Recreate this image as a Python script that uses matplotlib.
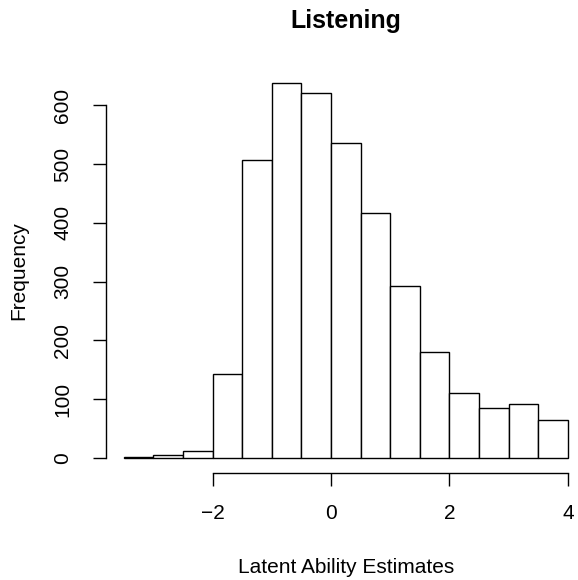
import matplotlib
matplotlib.use("Agg")
import matplotlib.pyplot as plt
import numpy as np

# =============================================================================
# Data (bin width 0.5)
# =============================================================================

bin_edges = np.arange(-3.5, 4.01, 0.5)
counts = [1, 4, 12, 143, 507, 638, 621, 536, 416, 292, 180, 110, 84, 92, 65]
x_ticks = [-2, 0, 2, 4]
y_ticks = [0, 100, 200, 300, 400, 500, 600]

# =============================================================================
# Plot
# =============================================================================

plt.rcParams["font.family"] = ["Liberation Sans", "DejaVu Sans"]

W, H = 578, 580
fig = plt.figure(figsize=(W / 100, H / 100), dpi=100)

left, right, top, bottom = 106, 585.6, 68, 472.7
ax = fig.add_axes([left / W, 1 - bottom / H, (right - left) / W, (bottom - top) / H])

ax.bar(
    bin_edges[:-1],
    counts,
    width=np.diff(bin_edges),
    align="edge",
    color="white",
    edgecolor="black",
    linewidth=1.0,
)

pad_x = 0.04 * (bin_edges[-1] - bin_edges[0])
ax.set_xlim(bin_edges[0] - pad_x, bin_edges[-1] + pad_x)
ax.set_ylim(-0.04 * max(counts), 1.04 * max(counts))

ax.spines["top"].set_visible(False)
ax.spines["right"].set_visible(False)
ax.spines["left"].set_bounds(y_ticks[0], y_ticks[-1])
ax.spines["bottom"].set_bounds(x_ticks[0], x_ticks[-1])
ax.spines["left"].set_linewidth(1.0)
ax.spines["bottom"].set_linewidth(1.0)

ax.set_xticks(x_ticks)
ax.set_xticklabels(["\u22122", "0", "2", "4"])
ax.set_yticks(y_ticks)
ax.set_yticklabels([str(v) for v in y_ticks], rotation=90, va="center")

ax.tick_params(axis="both", length=9.4, width=1.0, labelsize=15, direction="out")
ax.tick_params(axis="x", pad=13)
ax.tick_params(axis="y", pad=15)

ax.set_xlabel("Latent Ability Estimates", fontsize=15, labelpad=25)
ax.set_ylabel("Frequency", fontsize=15, labelpad=18)
ax.set_title("Listening", fontsize=18, fontweight="bold", pad=29)

fig.savefig("out.png", dpi=100)
